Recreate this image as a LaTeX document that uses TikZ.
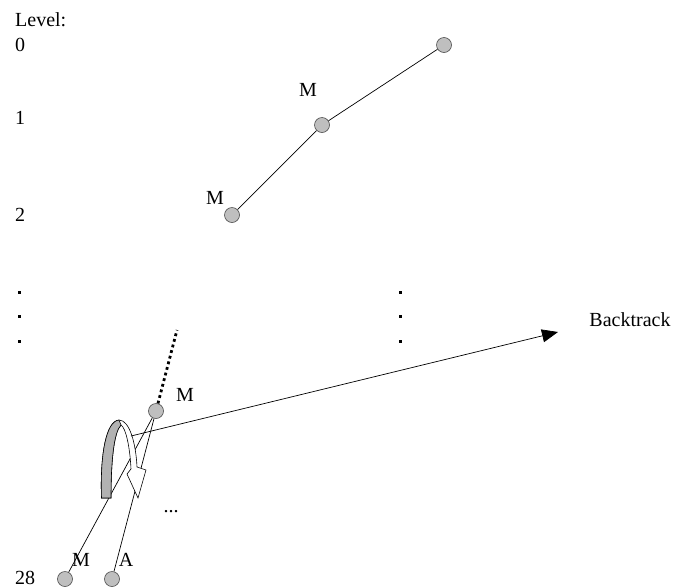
\documentclass[tikz,border=0pt]{standalone}
\usepackage{fontspec}
\setmainfont{Liberation Serif}
\usetikzlibrary{arrows.meta}
\begin{document}
\begin{tikzpicture}[x=1pt,y=-1pt,
  vert/.style={circle, draw=black!70, fill=black!25, minimum size=15pt, inner sep=0pt, line width=0.6pt},
  lbl/.style={font=\fontsize{20}{23}\selectfont, inner sep=0pt},
  edge/.style={line width=0.7pt},
  dotline/.style={line width=2.8pt, dash pattern=on 2.8pt off 3pt},
  bigdot/.style={fill=black}
]
\useasboundingbox[fill=white] (0,0) rectangle (676,587);

% level labels
\node[lbl, anchor=west] (lev) at (15,19.5) {Level:};
\node[lbl] (l0) at (20,45) {0};
\node[lbl] (l1) at (20,118) {1};
\node[lbl] (l2) at (20,215) {2};
\node[lbl] (l28) at (25,577.5) {28};

% vertical ellipsis dots
\foreach \yy in {292,316,341} {
  \fill[bigdot] (17.5,\yy-1.5) rectangle +(3,3);
  \fill[bigdot] (398.5,\yy-1.5) rectangle +(3,3);
}

% tree nodes
\node[vert] (n0) at (444,45) {};
\node[vert] (n1) at (322,125) {};
\node[vert] (n2) at (232,215) {};
\node[vert] (n3) at (156,411) {};
\node[vert] (n4) at (65,579) {};
\node[vert] (n5) at (112,579) {};

\draw[edge] (n0) -- (n1);
\draw[edge] (n1) -- (n2);
\draw[edge] (n3) -- (n4);
\draw[edge] (n3) -- (n5);
\coordinate (dtop) at (177,330);
\draw[dotline] (n3) -- (dtop);

% node labels
\node[lbl] (m1) at (308,90) {M};
\node[lbl] (m2) at (215,198) {M};
\node[lbl] (m3) at (185,395) {M};
\node[lbl] (m4) at (81,560) {M};
\node[lbl] (a5) at (126,560) {A};
\node[lbl] (dots) at (171,512) {...};

% curved block arrow
\filldraw[fill=white, draw=black, line width=0.6pt]
  (101.5,498) .. controls (100,455) and (106,421) .. (119,420)
  .. controls (130,420) and (136,445) .. (137,467)
  -- (146,470) -- (138,498) -- (127,474) -- (131,469)
  .. controls (130,448) and (126,428) .. (121,425)
  .. controls (114,432) and (111,460) .. (111,498) -- cycle;
\filldraw[fill=black!30, draw=black, line width=0.6pt]
  (101.5,498) .. controls (100,455) and (106,421) .. (119,420)
  -- (121,425)
  .. controls (114,432) and (111,460) .. (111,498) -- cycle;

% backtrack arrow
\coordinate (bs) at (131,436);
\coordinate (btip) at (558,332);
\draw[edge, -{Triangle[length=16pt,width=13pt]}] (bs) -- (btip);
\node[lbl] (bt) at (630,320) {Backtrack};
\end{tikzpicture}
\end{document}
